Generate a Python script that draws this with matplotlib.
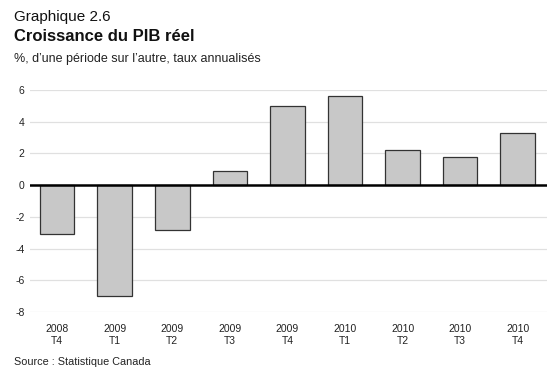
import matplotlib
matplotlib.use("Agg")
import matplotlib.pyplot as plt
import numpy as np

plt.rcParams['font.family'] = ['Liberation Sans', 'DejaVu Sans']

# Données
annees = ["2008", "2009", "2009", "2009", "2009", "2010", "2010", "2010", "2010"]
trimestres = ["T4", "T1", "T2", "T3", "T4", "T1", "T2", "T3", "T4"]
croissance = [-3.1, -7.0, -2.8, 0.9, 5.0, 5.6, 2.2, 1.8, 3.3]
yticks = [-8, -6, -4, -2, 0, 2, 4, 6]

fig = plt.figure(figsize=(5.6, 3.76), dpi=100)
ax = fig.add_axes([0.0536, 0.170, 0.9234, 0.591])

x = np.arange(len(croissance))
ax.bar(x, croissance, width=0.6, color="#c8c8c8", edgecolor="#333333", linewidth=0.9, zorder=3)

ax.set_ylim(-8, 6)
ax.set_xlim(-0.47, 8.51)
ax.set_yticks(yticks)
ax.set_yticklabels([str(v) for v in yticks], fontsize=7.5, color="#222222")
for v in yticks:
    if v != 0:
        ax.axhline(v, color="#e0e0e0", linewidth=0.9, zorder=1)
ax.axhline(0, color="black", linewidth=1.8, zorder=4)

ax.set_xticks(x)
ax.set_xticklabels([a + "\n" + t for a, t in zip(annees, trimestres)], fontsize=7.5, color="#222222", linespacing=1.3)
ax.tick_params(axis="both", length=0)
ax.tick_params(axis="y", pad=4)
ax.tick_params(axis="x", pad=8.5)
for s in ax.spines.values():
    s.set_visible(False)

fig.text(0.025, 0.945, "Graphique 2.6", fontsize=11, ha="left", va="baseline", color="#111111")
fig.text(0.025, 0.89, "Croissance du PIB réel", fontsize=12, fontweight="bold", ha="left", va="baseline", color="#111111")
fig.text(0.025, 0.835, "%, d\u2019une période sur l\u2019autre, taux annualisés", fontsize=9, ha="left", va="baseline", color="#222222")
fig.text(0.025, 0.029, "Source : Statistique Canada", fontsize=7.8, ha="left", va="baseline", color="#222222")

fig.savefig("out.png", dpi=100)
